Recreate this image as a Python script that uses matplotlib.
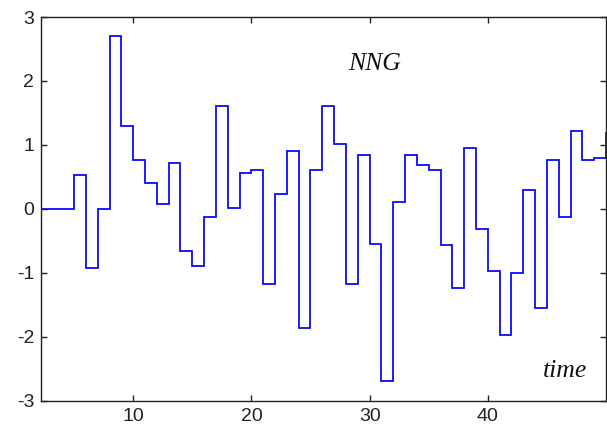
import numpy as np
import matplotlib
matplotlib.use("Agg")
import matplotlib.pyplot as plt

plt.rcParams['axes.unicode_minus'] = False

# step signal, one value per unit time interval [t, t+1)
t_start = 2
nng = [0.0, 0.0, 0.0, 0.53, -0.92, 0.0, 2.70, 1.30, 0.77, 0.40,
       0.08, 0.71, -0.66, -0.89, -0.12, 1.61, 0.01, 0.56, 0.61, -1.18,
       0.24, 0.90, -1.87, 0.61, 1.61, 1.01, -1.18, 0.84, -0.55, -2.69,
       0.10, 0.84, 0.69, 0.61, -0.57, -1.24, 0.95, -0.31, -0.97, -1.98,
       -1.00, 0.29, -1.55, 0.77, -0.12, 1.21, 0.77, 0.80, 1.19]
x_ticks = [10, 20, 30, 40]
y_ticks = [-3, -2, -1, 0, 1, 2, 3]

edges = np.arange(t_start, t_start + len(nng) + 1)

fig = plt.figure(figsize=(6.07, 4.32), dpi=100)
ax = fig.add_axes([41 / 607, 31.3 / 432, 565 / 607, 383.7 / 432])

ax.stairs(nng, edges, baseline=None, color='#0000ff', linewidth=1.25)

ax.set_xlim(2.2, 50)
ax.set_ylim(-3, 3)
ax.set_xticks(x_ticks)
ax.set_yticks(y_ticks)

ax.tick_params(direction='in', length=4, width=1, top=True, right=True,
               labelsize=14, colors='#222222', pad=5)
for lab in ax.get_xticklabels() + ax.get_yticklabels():
    lab.set_family('Liberation Sans')
for sp in ax.spines.values():
    sp.set_color('#222222')
    sp.set_linewidth(1)

ax.text(30.4, 2.26, 'NNG', family='Liberation Serif', style='italic',
        fontsize=18.5, ha='center', va='center', color='#111111')
ax.text(46.5, -2.53, 'time', family='Liberation Serif', style='italic',
        fontsize=18.5, ha='center', va='center', color='#111111')

fig.savefig('out.png', dpi=100)
